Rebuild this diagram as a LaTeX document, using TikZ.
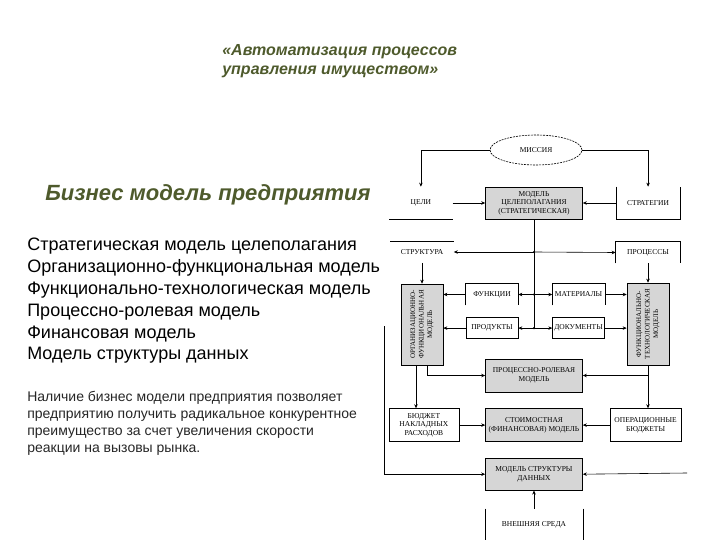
\documentclass[tikz,border=0pt]{standalone}
\usepackage{fontspec}
\setmainfont{Liberation Sans}
\newfontfamily\dgfont{Liberation Serif}
\usepackage{xcolor}
\usetikzlibrary{shapes.geometric, arrows.meta, positioning, calc}
\definecolor{olivetitle}{HTML}{4E5A2C}
\definecolor{boxgray}{HTML}{D6D6D6}
\tikzstyle{heading} = [anchor=north west, align=left, inner sep=0pt, text=olivetitle, font=\bfseries\itshape]
\tikzstyle{gbox} = [rectangle, draw=black, fill=boxgray, minimum width=97pt, minimum height=32pt, text centered, align=center, inner sep=1pt, font=\dgfont\fontsize{7.5}{8.5}\selectfont]
\tikzstyle{wbox} = [rectangle, draw=black, fill=white, minimum height=33pt, text centered, align=center, inner sep=1pt, font=\dgfont\fontsize{7.5}{8.5}\selectfont]
\tikzstyle{tag} = [rectangle, minimum width=52pt, minimum height=21pt, text centered, align=center, inner sep=1pt, font=\dgfont\fontsize{7.5}{8.5}\selectfont]
\tikzstyle{vtext} = [rotate=90, align=center, inner sep=0pt, font=\dgfont\fontsize{7}{8.5}\selectfont]
\tikzstyle{arrow} = [->, >={Stealth[length=4pt, width=3.5pt]}]

\begin{document}
\begin{tikzpicture}[x=1pt, y=-1pt, line width=0.6pt]
    \useasboundingbox (0,0) rectangle (720,540);

    % left column
    \node[heading, font=\bfseries\itshape\fontsize{16}{19}\selectfont] (title) at (222,44.5) {«Автоматизация процессов\\управления имуществом»};
    \node[heading, font=\bfseries\itshape\fontsize{22}{26}\selectfont] (bmtitle) at (45,184) {Бизнес модель предприятия};
    \node[anchor=north west, align=left, inner sep=0pt, font=\fontsize{18}{21.8}\selectfont] (modellist) at (27,238) {Стратегическая модель целеполагания\\Организационно-функциональная модель\\Функционально-технологическая модель\\Процессно-ролевая модель\\Финансовая модель\\Модель структуры данных};
    \node[anchor=north west, align=left, inner sep=0pt, text=black!85, font=\fontsize{14}{17}\selectfont] (summary) at (27,391) {Наличие бизнес модели предприятия позволяет\\предприятию получить радикальное конкурентное\\преимущество за счет увеличения скорости\\реакции на вызовы рынка.};

    % diagram
    \node[ellipse, draw=black, dash pattern=on 2pt off 1pt, fill=white, minimum width=92pt, minimum height=30pt, font=\dgfont\fontsize{7.5}{8.5}\selectfont] (mission) at (536,150) {МИССИЯ};
    \node[gbox] (stratmodel) at (534,203) {МОДЕЛЬ\\ЦЕЛЕПОЛАГАНИЯ\\(СТРАТЕГИЧЕСКАЯ)};
    \node[tag, minimum width=63pt, minimum height=32pt, left=32.5pt of stratmodel] (goals) {ЦЕЛИ};
    \node[tag, minimum width=64pt, minimum height=32pt, right=33pt of stratmodel] (strategies) {СТРАТЕГИИ};
    \node[tag, minimum width=63pt] (structure) at (422,252) {СТРУКТУРА};
    \node[tag, minimum width=64pt] (processes) at (648,252.5) {ПРОЦЕССЫ};

    \node[tag] (functions) at (492,294.5) {ФУНКЦИИ};
    \node[tag, right=34pt of functions] (materials) {МАТЕРИАЛЫ};
    \node[tag, draw=black, below=12pt of functions] (products) {ПРОДУКТЫ};
    \node[tag, draw=black, below=12pt of materials] (documents) {ДОКУМЕНТЫ};

    \node[gbox, minimum width=42pt, minimum height=81pt] (orgmodel) at (422,324.5) {};
    \node[vtext] (orgmodeltext) at (orgmodel) {ОРГАНИЗАЦИОННО-\\ФУНКЦИОНАЛЬНАЯ\\МОДЕЛЬ};
    \node[gbox, minimum width=42pt, minimum height=82pt] (techmodel) at (648,324) {};
    \node[vtext] (techmodeltext) at (techmodel) {ФУНКЦИОНАЛЬНО-\\ТЕХНОЛОГИЧЕСКАЯ\\МОДЕЛЬ};

    \node[gbox, minimum height=33pt] (roles) at (534,375.5) {ПРОЦЕССНО-РОЛЕВАЯ\\МОДЕЛЬ};
    \node[gbox, minimum height=33pt, below=16pt of roles] (finance) {СТОИМОСТНАЯ\\(ФИНАНСОВАЯ) МОДЕЛЬ};
    \node[wbox, minimum width=70pt, left=26pt of finance] (overhead) {БЮДЖЕТ\\НАКЛАДНЫХ\\РАСХОДОВ};
    \node[wbox, minimum width=71pt, right=27pt of finance] (opbudgets) {ОПЕРАЦИОННЫЕ\\БЮДЖЕТЫ};
    \node[gbox, below=16pt of finance] (datamodel) {МОДЕЛЬ СТРУКТУРЫ\\ДАННЫХ};
    \node[tag, minimum width=97pt, minimum height=33pt, below=18pt of datamodel] (environment) {ВНЕШНЯЯ СРЕДА};

    % open boxes
    \draw (goals.south west) -- (goals.south east);
    \draw (structure.north west) -- (structure.north east);
    \draw (strategies.north west) -- (strategies.south west) -- (strategies.south east) -- (strategies.north east);
    \draw (processes.south west) -- (processes.north west) -- (processes.north east) -- (processes.south east);
    \draw (functions.south west) -- (functions.north west) -- (functions.north east) -- (functions.south east);
    \draw (materials.south west) -- (materials.north west) -- (materials.north east) -- (materials.south east);
    \draw (environment.north west) -- (environment.south west);
    \draw (environment.north east) -- (environment.south east);

    \coordinate (jA) at (stratmodel.south |- structure.east);
    \coordinate (jB) at (stratmodel.south |- functions.east);
    \coordinate (jC) at (stratmodel.south |- products.east);
    \coordinate (leftrail) at (384,326);
    \coordinate (rightrail) at (687,473);

    \draw[arrow] (mission.west) -| (goals.north);
    \draw[arrow] (mission.east) -| (strategies.north);
    \draw[arrow] (goals.east) -- (stratmodel.west);
    \draw[arrow] (strategies.west) -- (stratmodel.east);
    \draw (stratmodel.south) -- (jC);
    \draw[arrow] (jA) -- (structure.east);
    \draw[arrow] (jA) -- (processes.west);
    \draw[arrow] (jB) -- (functions.east);
    \draw[arrow] (jB) -- (materials.west);
    \draw[arrow] (jC) -- (products.east);
    \draw[arrow] (jC) -- (documents.west);
    \foreach \j in {jA, jB, jC}
        \fill (\j) circle (1.2pt);
    \draw[arrow] (structure.south) -- (orgmodel.north);
    \draw[arrow] (processes.south) -- (techmodel.north);
    \draw[arrow] (functions.west) -- (functions.west -| orgmodel.east);
    \draw[arrow] (products.west) -- (products.west -| orgmodel.east);
    \draw[arrow] (materials.east) -- (materials.east -| techmodel.west);
    \draw[arrow] (documents.east) -- (documents.east -| techmodel.west);
    \draw[arrow] ([xshift=-6pt]orgmodel.south) -- ([xshift=-6pt]orgmodel.south |- overhead.north);
    \draw[arrow] ([xshift=5pt]orgmodel.south) |- (roles.west);
    \draw[arrow] (techmodel.south) -- (techmodel.south |- opbudgets.north);
    \draw[arrow] (techmodel.south) |- (roles.east);
    \draw[arrow] (overhead.east) -- (finance.west);
    \draw[arrow] (opbudgets.west) -- (finance.east);
    \draw[arrow] (leftrail) |- (datamodel.west);
    \draw[arrow] (rightrail) -- (datamodel.east);
    \draw[arrow] (environment.north) -- (datamodel.south);
\end{tikzpicture}
\end{document}
